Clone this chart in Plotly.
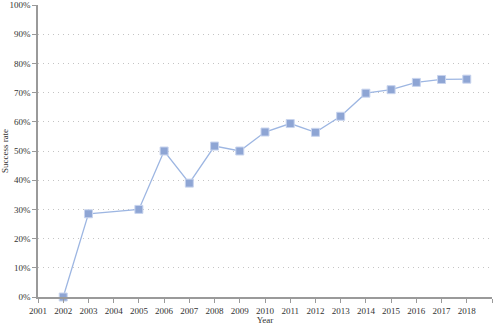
import plotly.graph_objects as go

years = [2002, 2003, 2005, 2006, 2007, 2008, 2009, 2010, 2011, 2012, 2013, 2014, 2015, 2016, 2017, 2018]
success = [0.0, 28.5, 30.0, 50.0, 39.0, 51.7, 50.0, 56.5, 59.4, 56.4, 61.9, 69.8, 71.0, 73.5, 74.5, 74.6]
tick_years = list(range(2001, 2020))
y_ticks = list(range(0, 101, 10))

fig = go.Figure()
fig.add_trace(go.Scatter(
    x=years, y=success, mode="lines+markers",
    line=dict(color="#9db6e2", width=1.3),
    marker=dict(symbol="square", size=8, color="#8ea5d4", line=dict(color="#c8d4ee", width=1)),
    showlegend=False, cliponaxis=False,
))
fig.update_layout(
    width=500, height=325,
    margin=dict(l=38, r=8, t=5, b=28, autoexpand=False),
    paper_bgcolor="white", plot_bgcolor="white",
    font=dict(family="Liberation Serif", size=9, color="#333333"),
)
fig.update_xaxes(
    range=[2001, 2019], tickvals=tick_years, ticktext=[str(y) for y in tick_years],
    showgrid=False, showline=True, linecolor="#9a9a9a", linewidth=1.5,
    ticks="outside", ticklen=4, tickcolor="#9a9a9a",
    title=dict(text="Year", font=dict(size=9), standoff=2),
    zeroline=False, automargin=False,
)
fig.update_yaxes(
    range=[0, 100], tickvals=y_ticks, ticktext=[f"{v}%" for v in y_ticks],
    showgrid=True, gridcolor="#c4c4c4", griddash="1px,4px", gridwidth=1,
    showline=True, linecolor="#9a9a9a", linewidth=1.5,
    ticks="outside", ticklen=4, tickcolor="#9a9a9a",
    title=dict(text="Success rate", font=dict(size=9), standoff=4),
    zeroline=False, automargin=False,
)
fig.write_html("out.html")
